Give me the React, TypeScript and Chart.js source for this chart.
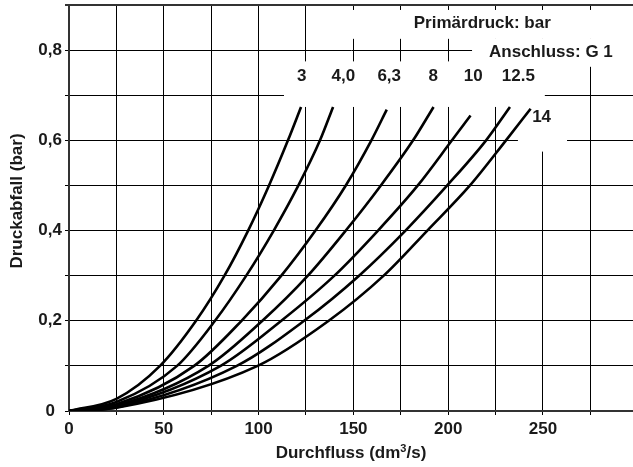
import React, { useEffect, useRef } from 'react';
import { Chart, registerables } from 'chart.js';
Chart.register(...registerables);

// ---- data ----
const seriesNames = ['3', '4,0', '6,3', '8', '10', '12.5', '14'];

const flow3 = [0, 25, 48, 67, 82, 94.5, 105.5, 115.5, 122.4];
const drop3 = [0, 0.027, 0.1, 0.2, 0.3, 0.4, 0.5, 0.6, 0.674];

const flow4 = [0, 25, 57, 77, 93.5, 108, 121, 132.4, 139.3];
const drop4 = [0, 0.02, 0.1, 0.2, 0.3, 0.4, 0.5, 0.6, 0.674];

const flow63 = [0, 25, 66, 91, 112, 130, 146, 159.5, 167.6];
const drop63 = [0, 0.015, 0.1, 0.2, 0.3, 0.4, 0.5, 0.6, 0.668];

const flow8 = [0, 25, 73.5, 102, 126, 146, 164.5, 181.5, 192.3];
const drop8 = [0, 0.012, 0.1, 0.2, 0.3, 0.4, 0.5, 0.6, 0.674];

const flow10 = [0, 25, 80, 112, 140, 163, 184, 202, 211.8];
const drop10 = [0, 0.01, 0.1, 0.2, 0.3, 0.4, 0.5, 0.6, 0.655];

const flow125 = [0, 25, 88.5, 124, 153, 177.5, 199.5, 220, 232.6];
const drop125 = [0, 0.008, 0.1, 0.2, 0.3, 0.4, 0.5, 0.6, 0.674];

const flow14 = [0, 25, 99.5, 137, 166, 189, 211.5, 230.5, 243.5];
const drop14 = [0, 0.007, 0.1, 0.2, 0.3, 0.4, 0.5, 0.6, 0.67];

const seriesFlows = [flow3, flow4, flow63, flow8, flow10, flow125, flow14];
const seriesDrops = [drop3, drop4, drop63, drop8, drop10, drop125, drop14];

const xTickLabels = [0, 50, 100, 150, 200, 250];
const yTickValues = [0, 0.2, 0.4, 0.6, 0.8];
const yTickTexts = ['0', '0,2', '0,4', '0,6', '0,8'];

const headerText = 'Primärdruck: bar';
const connectionText = 'Anschluss: G 1';
const xTitleParts = ['Durchfluss (dm', '3', '/s)'];
const yTitle = 'Druckabfall (bar)';

// ---- annotation layout (in data units) ----
const labelX = [122.7, 144.7, 168.9, 192.1, 213.2, 237, 249.3];
const labelY = [0.743, 0.743, 0.743, 0.743, 0.743, 0.743, 0.651];
// [x0, x1, yTop, yBottom]
const maskBoxes = [
  [127.3, 300, 0.889, 0.825],
  [212.6, 300, 0.826, 0.763],
  [113.4, 251, 0.775, 0.674],
  [236.8, 262.7, 0.697, 0.575],
];

const FONT = '"Liberation Sans", Arial, Helvetica, sans-serif';
const TEXT = '#1a1a1a';
const FS = 17;

const annotPlugin = {
  id: 'annot',
  beforeDatasetsDraw(chart: any) {
    const { ctx } = chart;
    const xs = chart.scales.x;
    const ys = chart.scales.y;
    ctx.save();
    ctx.fillStyle = '#fff';
    for (const [x0, x1, y0, y1] of maskBoxes) {
      const px0 = xs.getPixelForValue(x0);
      const px1 = xs.getPixelForValue(x1);
      const py0 = ys.getPixelForValue(y0);
      const py1 = ys.getPixelForValue(y1);
      ctx.fillRect(px0, py0, px1 - px0, py1 - py0);
    }
    ctx.fillStyle = TEXT;
    ctx.font = `bold ${FS}px ${FONT}`;
    ctx.textAlign = 'center';
    ctx.textBaseline = 'middle';
    ctx.fillText(headerText, xs.getPixelForValue(218), ys.getPixelForValue(0.86));
    ctx.fillText(connectionText, xs.getPixelForValue(254.2), ys.getPixelForValue(0.796));
    seriesNames.forEach((n, i) => {
      ctx.fillText(n, xs.getPixelForValue(labelX[i]), ys.getPixelForValue(labelY[i]));
    });
    ctx.restore();
  },
  afterDraw(chart: any) {
    const { ctx, chartArea } = chart;
    ctx.save();
    ctx.fillStyle = TEXT;
    ctx.textBaseline = 'middle';
    // x title with superscript
    const big = `bold ${FS}px ${FONT}`;
    const small = `bold 11px ${FONT}`;
    ctx.font = big;
    const w0 = ctx.measureText(xTitleParts[0]).width;
    const w2 = ctx.measureText(xTitleParts[2]).width;
    ctx.font = small;
    const w1 = ctx.measureText(xTitleParts[1]).width;
    const total = w0 + w1 + w2;
    let cx = (chartArea.left + chartArea.right) / 2 - total / 2;
    const cy = chartArea.bottom + 42.5;
    ctx.textAlign = 'left';
    ctx.font = big;
    ctx.fillText(xTitleParts[0], cx, cy);
    cx += w0;
    ctx.font = small;
    ctx.fillText(xTitleParts[1], cx, cy - 5);
    cx += w1;
    ctx.font = big;
    ctx.fillText(xTitleParts[2], cx, cy);
    // y title
    ctx.textAlign = 'center';
    ctx.translate(chartArea.left - 52, chartArea.top + 196);
    ctx.rotate(-Math.PI / 2);
    ctx.fillText(yTitle, 0, 0);
    ctx.restore();
  },
};

export default function App() {
  const ref = useRef<HTMLCanvasElement>(null);
  useEffect(() => {
    const datasets = seriesNames.map((name, i) => ({
      label: name,
      data: seriesFlows[i].map((v, j) => ({ x: v, y: seriesDrops[i][j] })),
      borderColor: '#000',
      borderWidth: 2.6,
      pointRadius: 0,
      fill: false,
      cubicInterpolationMode: 'monotone' as const,
    }));
    const chart = new Chart(ref.current as HTMLCanvasElement, {
      type: 'line',
      data: { datasets },
      options: {
        responsive: false,
        devicePixelRatio: 1,
        animation: false,
        layout: { padding: { top: 5, left: 0, right: 0, bottom: 0 } },
        plugins: { legend: { display: false }, tooltip: { enabled: false } },
        scales: {
          x: {
            type: 'linear',
            min: 0,
            max: 297.5,
            afterFit: (s: any) => {
              s.height = 56;
              s.paddingLeft = 0;
              s.paddingRight = 0;
            },
            ticks: {
              stepSize: 25,
              includeBounds: false,
              autoSkip: false,
              maxRotation: 0,
              padding: 4,
              color: TEXT,
              font: { family: FONT, size: FS, weight: 'bold' },
              callback: (v: any) => (xTickLabels.includes(Number(v)) ? String(v) : ''),
            },
            grid: { color: '#000', lineWidth: 1, tickLength: 4 },
            border: { color: '#333', width: 2 },
          },
          y: {
            type: 'linear',
            min: 0,
            max: 0.9,
            afterFit: (s: any) => {
              s.width = 69;
              s.paddingTop = 0;
              s.paddingBottom = 0;
            },
            ticks: {
              stepSize: 0.1,
              autoSkip: false,
              crossAlign: 'center',
              padding: 3,
              color: TEXT,
              font: { family: FONT, size: FS, weight: 'bold' },
              callback: (v: any) => {
                const idx = yTickValues.findIndex((t) => Math.abs(t - Number(v)) < 1e-6);
                return idx >= 0 ? yTickTexts[idx] : '';
              },
            },
            grid: {
              color: (c: any) => (c.tick && Math.abs(c.tick.value - 0.9) < 1e-6 ? '#333' : '#000'),
              lineWidth: (c: any) => (c.tick && Math.abs(c.tick.value - 0.9) < 1e-6 ? 2 : 1),
              tickLength: 4,
            },
            border: { color: '#333', width: 2 },
          },
        },
      } as any,
      plugins: [annotPlugin],
    });
    return () => chart.destroy();
  }, []);
  return (
    <div style={{ position: 'fixed', left: 0, top: 0, width: 633, height: 467, background: '#fff' }}>
      <canvas ref={ref} width={633} height={467} style={{ display: 'block' }} />
    </div>
  );
}
